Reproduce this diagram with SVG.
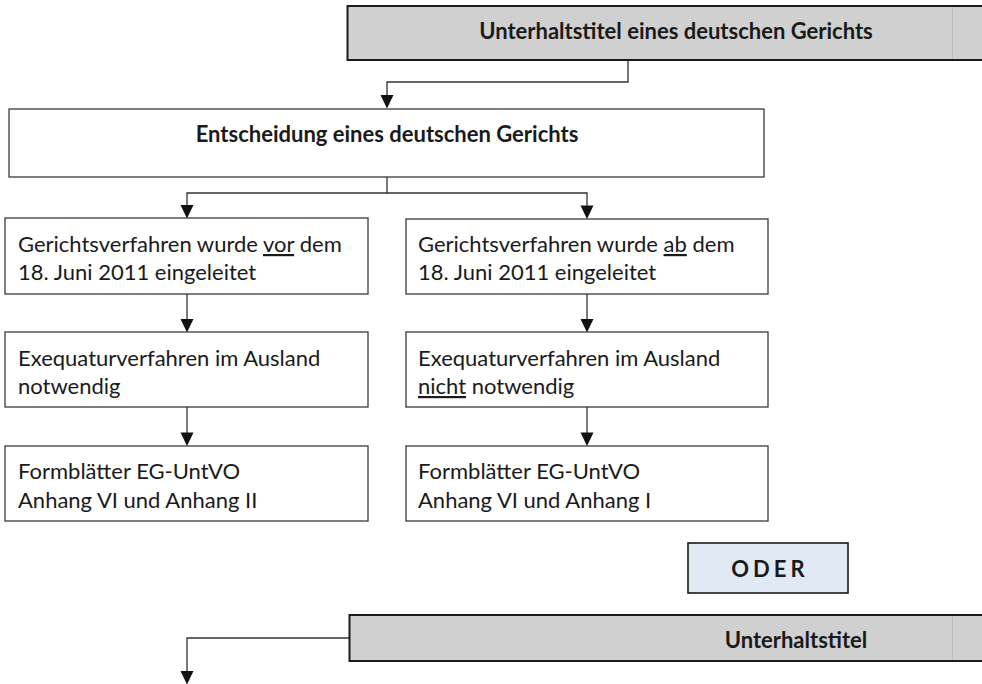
<svg xmlns="http://www.w3.org/2000/svg" width="982" height="684" viewBox="0 0 982 684">
<style>
.box{fill:#fff;stroke:#3a3a3a;stroke-width:1.3}
.grey{fill:#d0d0d0;stroke:none}
.gedge{stroke:#1a1a1a;stroke-width:2;fill:none}
.oder{fill:#e1e9f4;stroke:#1a1a1a;stroke-width:1.6}
.t{font-family:Lato,"Open Sans",sans-serif;font-size:22px;fill:#1a1a1a}
.b{font-family:Lato,"Open Sans",sans-serif;font-size:22px;font-weight:bold;fill:#1a1a1a}
.u{text-decoration:underline}
.c{fill:none;stroke:#333;stroke-width:1.3}
.ah{fill:#111}
.seam{stroke:#b4b4b4;stroke-width:0.7}
</style>
<rect width="982" height="684" fill="#fff"/>
<g id="connectors">
<path class="c" d="M628,60 V82 H387 V100"/>
<path class="ah" d="M380.5,95 L393.5,95 L387,108.5 Z"/>
<path class="c" d="M387,177 V193 H187 V210"/>
<path class="c" d="M387,193 H587 V210"/>
<path class="ah" d="M180.5,205 L193.5,205 L187,218.5 Z"/>
<path class="ah" d="M580.5,205.5 L593.5,205.5 L587,219 Z"/>
<path class="c" d="M187,294 V322"/>
<path class="ah" d="M180.5,319 L193.5,319 L187,332.5 Z"/>
<path class="c" d="M587,294 V322"/>
<path class="ah" d="M580.5,319 L593.5,319 L587,332.5 Z"/>
<path class="c" d="M187,407 V436"/>
<path class="ah" d="M180.5,432.5 L193.5,432.5 L187,446 Z"/>
<path class="c" d="M587,407 V436"/>
<path class="ah" d="M580.5,432.5 L593.5,432.5 L587,446 Z"/>
<path class="c" d="M349,638 H187 V675"/>
<path class="ah" d="M180.5,671 L193.5,671 L187,684.5 Z"/>
</g>
<g id="top">
<rect class="grey" x="347" y="6" width="640" height="54"/>
<path class="gedge" d="M990,6 H347.5 V60 H990"/>
<line class="seam" x1="952.5" y1="7" x2="952.5" y2="59"/>
<text class="b" x="676" y="39" text-anchor="middle">Unterhaltstitel eines deutschen Gerichts</text>
</g>
<g id="entscheidung">
<rect class="box" x="9" y="109" width="755" height="68"/>
<text class="b" x="387" y="142" text-anchor="middle">Entscheidung eines deutschen Gerichts</text>
</g>
<g id="vor">
<rect class="box" x="5" y="218" width="363" height="76"/>
<text class="t" x="18" y="252">Gerichtsverfahren wurde <tspan class="u">vor</tspan> dem</text>
<text class="t" x="18" y="280">18. Juni 2011 eingeleitet</text>
</g>
<g id="ab">
<rect class="box" x="406" y="219" width="362" height="75"/>
<text class="t" x="418" y="252">Gerichtsverfahren wurde <tspan class="u">ab</tspan> dem</text>
<text class="t" x="418" y="280">18. Juni 2011 eingeleitet</text>
</g>
<g id="exeq-left">
<rect class="box" x="5" y="332" width="363" height="75"/>
<text class="t" x="18" y="366">Exequaturverfahren im Ausland</text>
<text class="t" x="18" y="394">notwendig</text>
</g>
<g id="exeq-right">
<rect class="box" x="406" y="332" width="362" height="75"/>
<text class="t" x="418" y="366">Exequaturverfahren im Ausland</text>
<text class="t" x="418" y="394"><tspan class="u">nicht</tspan> notwendig</text>
</g>
<g id="form-left">
<rect class="box" x="5" y="446" width="363" height="75"/>
<text class="t" x="18" y="479">Formblätter EG-UntVO</text>
<text class="t" x="18" y="508">Anhang VI und Anhang II</text>
</g>
<g id="form-right">
<rect class="box" x="406" y="446" width="362" height="75"/>
<text class="t" x="418" y="479">Formblätter EG-UntVO</text>
<text class="t" x="418" y="508">Anhang VI und Anhang I</text>
</g>
<g id="oder">
<rect class="oder" x="688" y="543" width="160" height="50"/>
<text class="b" x="770" y="577" text-anchor="middle" letter-spacing="4">ODER</text>
</g>
<g id="bottom">
<rect class="grey" x="349" y="615" width="640" height="46"/>
<path class="gedge" d="M990,615 H349.5 V661 H990"/>
<line class="seam" x1="952.5" y1="616" x2="952.5" y2="660"/>
<text class="b" x="796" y="648" text-anchor="middle">Unterhaltstitel</text>
</g>
</svg>
